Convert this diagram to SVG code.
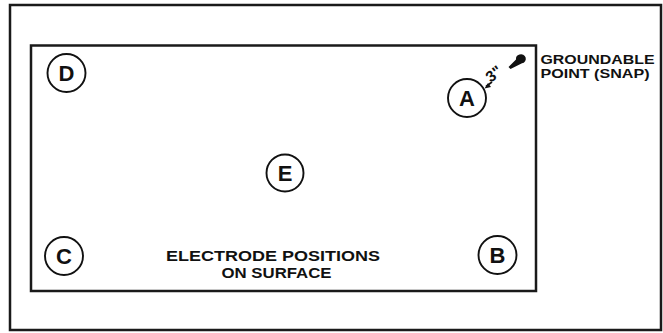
<svg xmlns="http://www.w3.org/2000/svg" width="663" height="333" viewBox="0 0 663 333">
<style>
.frame{fill:none;stroke:#1a1a1a;stroke-width:2.5}
.elec circle{fill:#fff;stroke:#111;stroke-width:1.9}
.elec text{font-family:"Liberation Sans",Arial,sans-serif;font-weight:bold;font-size:22px;fill:#111;text-anchor:middle}
.lbl{font-family:"Liberation Sans",Arial,sans-serif;font-weight:bold;font-size:15.5px;fill:#111}
.sm{font-size:13.5px}
</style>
<rect width="663" height="333" fill="#fff"/>
<rect class="frame" x="10" y="5" width="651" height="325"/>
<rect class="frame" x="31" y="45.5" width="505" height="245.5"/>
<g id="D" class="elec"><circle cx="66.5" cy="73" r="19"/><text x="66.5" y="81">D</text></g>
<g id="A" class="elec"><circle cx="467" cy="98" r="19"/><text x="467" y="106">A</text></g>
<g id="E" class="elec"><circle cx="285" cy="173" r="18.5"/><text x="285" y="181">E</text></g>
<g id="C" class="elec"><circle cx="64" cy="256" r="19"/><text x="64" y="264">C</text></g>
<g id="B" class="elec"><circle cx="497.5" cy="255" r="19"/><text x="497.5" y="263">B</text></g>
<g id="snap">
<path d="M519.5 54.5 a4.6 4.6 0 1 1 2.5 8.8 L510.5 69 L508.5 67 L516 59.5 a4.6 4.6 0 0 1 3.5 -5 z" fill="#111"/>
</g>
<g id="connectors" stroke="#111" stroke-width="1.6" fill="none">
<line x1="486" y1="86.5" x2="492" y2="82"/>
<path d="M484.5 88.5 L491 87 L488 83 z" fill="#111" stroke="none"/>
</g>
<text class="lbl" x="497" y="78" font-size="10" transform="rotate(-38 497 78)" text-anchor="middle">3"</text>
<text class="lbl sm" x="540.5" y="63.5" textLength="114" lengthAdjust="spacingAndGlyphs">GROUNDABLE</text>
<text class="lbl sm" x="540.5" y="78" textLength="109" lengthAdjust="spacingAndGlyphs">POINT (SNAP)</text>
<text class="lbl" x="273" y="261" text-anchor="middle" textLength="214" lengthAdjust="spacingAndGlyphs">ELECTRODE POSITIONS</text>
<text class="lbl" x="276.5" y="277.5" text-anchor="middle" textLength="110" lengthAdjust="spacingAndGlyphs">ON SURFACE</text>
</svg>
